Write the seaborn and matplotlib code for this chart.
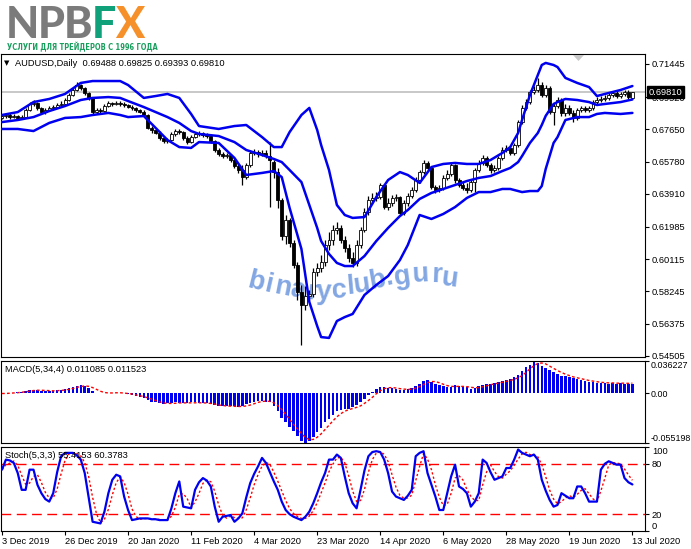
import numpy as np
import pandas as pd
import matplotlib
matplotlib.use("Agg")
import matplotlib.pyplot as plt
import seaborn as sns
from matplotlib import font_manager as fm
from matplotlib.patches import Polygon
from matplotlib.transforms import Affine2D

# ------------------------------------------------------------------ data
symbol_title = "AUDUSD,Daily  0.69488 0.69825 0.69393 0.69810"
macd_title = "MACD(5,34,4) 0.011085 0.011523"
stoch_title = "Stoch(5,3,3) 55.4153 60.3783"
last_price = 0.69810

open_ = [
    .6831, .6842, .6848, .6836, .6842, .6831, .6836, .6877, .6912, .6918,
    .6889, .6865, .6877, .6889, .6894, .6906, .6912, .6935, .6964, .6993,
    .7022, .7005, .6976, .6947, .6865, .6877, .6871, .6900, .6918, .6912,
    .6918, .6912, .6906, .6894, .6889, .6877, .6865, .6848, .6773, .6761,
    .6744, .6715, .6697, .6703, .6738, .6755, .6749, .6715, .6691, .6720,
    .6738, .6744, .6732, .6726, .6697, .6645, .6622, .6610, .6616, .6587,
    .6552, .6529, .6488, .6558, .6628, .6633, .6622, .6628, .6610, .6575,
    .6517, .6355, .6147, .6239, .6106, .5978, .5821, .5746, .5798, .5810,
    .5937, .5961, .5995, .6094, .6123, .6181, .6193, .6123, .6077, .6019,
    .5990, .6094, .6181, .6285, .6355, .6367, .6372, .6442, .6314, .6338,
    .6367, .6372, .6280, .6338, .6378, .6413, .6471, .6517, .6570, .6541,
    .6430, .6413, .6425, .6483, .6506, .6558, .6471, .6442, .6425, .6413,
    .6459, .6529, .6570, .6599, .6558, .6529, .6541, .6599, .6645, .6657,
    .6628, .6674, .6807, .6889, .6923, .6981, .6993, .7022, .6964, .7005,
    .6865, .6900, .6935, .6860, .6889, .6860, .6831, .6877, .6889, .6877,
    .6889, .6923, .6935, .6941, .6947, .6964, .6976, .6958, .6970, .6981,
    .69488]
high = [
    .6854, .6860, .6860, .6854, .6848, .6848, .6889, .6923, .6935, .6923,
    .6894, .6889, .6900, .6906, .6918, .6929, .6947, .6976, .7005, .7039,
    .7028, .7010, .6981, .6952, .6889, .6889, .6912, .6929, .6923, .6929,
    .6929, .6923, .6912, .6906, .6894, .6883, .6877, .6854, .6784, .6767,
    .6755, .6726, .6715, .6749, .6767, .6767, .6755, .6726, .6732, .6749,
    .6755, .6749, .6744, .6732, .6703, .6657, .6633, .6628, .6622, .6599,
    .6564, .6558, .6570, .6645, .6651, .6645, .6645, .6645, .6691, .6587,
    .6541, .6367, .6268, .6251, .6123, .5995, .5862, .5856, .5833, .5961,
    .5990, .6036, .6123, .6169, .6210, .6227, .6210, .6147, .6100, .6053,
    .6123, .6198, .6309, .6378, .6396, .6401, .6454, .6448, .6367, .6384,
    .6390, .6378, .6355, .6396, .6430, .6488, .6529, .6587, .6581, .6552,
    .6442, .6442, .6500, .6529, .6575, .6564, .6483, .6459, .6454, .6471,
    .6541, .6587, .6616, .6610, .6570, .6558, .6610, .6662, .6674, .6668,
    .6686, .6819, .6906, .6941, .6993, .7016, .7063, .7039, .7022, .7016,
    .6918, .6952, .6947, .6912, .6906, .6877, .6889, .6900, .6900, .6900,
    .6935, .6952, .6958, .6964, .6976, .6987, .6993, .6981, .6993, .6993,
    .69825]
low = [
    .6825, .6831, .6825, .6831, .6819, .6825, .6831, .6871, .6900, .6877,
    .6860, .6854, .6871, .6877, .6889, .6900, .6906, .6929, .6958, .6987,
    .6993, .6964, .6935, .6854, .6854, .6860, .6865, .6894, .6900, .6906,
    .6900, .6894, .6889, .6877, .6865, .6860, .6842, .6767, .6744, .6738,
    .6703, .6686, .6686, .6697, .6726, .6738, .6703, .6680, .6686, .6715,
    .6726, .6720, .6715, .6686, .6633, .6610, .6599, .6599, .6575, .6541,
    .6512, .6442, .6477, .6546, .6616, .6604, .6610, .6599, .6314, .6483,
    .6309, .6123, .6100, .6082, .5961, .5775, .5514, .5717, .5775, .5792,
    .5914, .5937, .5972, .6065, .6094, .6158, .6106, .6053, .5995, .5966,
    .5972, .6077, .6169, .6268, .6338, .6349, .6361, .6303, .6297, .6320,
    .6349, .6262, .6268, .6320, .6367, .6401, .6454, .6506, .6529, .6419,
    .6396, .6401, .6413, .6471, .6494, .6454, .6430, .6413, .6396, .6401,
    .6401, .6517, .6558, .6546, .6512, .6517, .6529, .6587, .6633, .6616,
    .6616, .6662, .6796, .6877, .6912, .6970, .6981, .6952, .6952, .6854,
    .6790, .6889, .6842, .6842, .6848, .6807, .6819, .6865, .6865, .6865,
    .6877, .6912, .6923, .6929, .6935, .6952, .6947, .6947, .6958, .6941,
    .69393]
close = [
    .6842, .6848, .6836, .6842, .6831, .6836, .6877, .6912, .6918, .6889,
    .6865, .6877, .6889, .6894, .6906, .6912, .6935, .6964, .6993, .7022,
    .7005, .6976, .6947, .6865, .6877, .6871, .6900, .6918, .6912, .6918,
    .6912, .6906, .6894, .6889, .6877, .6865, .6848, .6773, .6761, .6744,
    .6715, .6697, .6703, .6738, .6755, .6749, .6715, .6691, .6720, .6738,
    .6744, .6732, .6726, .6697, .6645, .6622, .6610, .6616, .6587, .6552,
    .6529, .6488, .6558, .6628, .6633, .6622, .6628, .6610, .6587, .6517,
    .6355, .6147, .6239, .6106, .5978, .5821, .5746, .5798, .5810, .5937,
    .5961, .5995, .6094, .6123, .6181, .6193, .6123, .6077, .6019, .5990,
    .6094, .6181, .6285, .6355, .6367, .6372, .6442, .6314, .6338, .6367,
    .6372, .6280, .6338, .6378, .6413, .6471, .6517, .6570, .6541, .6430,
    .6413, .6425, .6483, .6506, .6558, .6471, .6442, .6425, .6413, .6459,
    .6529, .6570, .6599, .6558, .6529, .6541, .6599, .6645, .6657, .6628,
    .6674, .6807, .6889, .6923, .6981, .6993, .7022, .6964, .7005, .6865,
    .6900, .6935, .6860, .6889, .6860, .6831, .6877, .6889, .6877, .6889,
    .6923, .6935, .6941, .6947, .6964, .6976, .6958, .6970, .6981, .6952,
    .69810]

# Bollinger bands, read at these bar positions
band_idx = [0, 4, 8, 12, 16, 20, 23, 27, 30, 32, 36, 39, 42, 45, 48, 50, 55, 59, 62,
            66, 69, 71, 73, 76, 78, 80, 81, 83, 85, 87, 89, 92, 95, 98, 101, 103,
            106, 109, 112, 115, 118, 121, 124, 127, 129, 131, 132, 134, 136, 137,
            138, 140, 141, 143, 146, 149, 151, 153, 157, 160]
bb_upper = [.6848, .6865, .6923, .6941, .6970, .7034, .7045, .7045, .7045, .7022,
            .6947, .6958, .6970, .6947, .6854, .6784, .6767, .6784, .6790,
            .6720, .6662, .6662, .6749, .6848, .6889, .6761, .6674, .6529, .6326,
            .6268, .6251, .6256, .6372, .6471, .6517, .6500,
            .6454, .6546, .6564, .6570, .6564, .6564, .6587, .6628, .6662, .6744,
            .6819, .6964, .7080, .7138,
            .7150, .7138, .7126, .7063, .7034, .7010, .6958, .6970, .6993, .7016]
bb_middle = [.6807, .6819, .6836, .6871, .6900, .6935, .6947, .6952, .6947, .6929,
             .6894, .6865, .6836, .6802, .6755, .6738, .6726, .6691, .6645,
             .6616, .6593, .6575, .6529, .6459, .6326, .6193, .6117, .6042, .5990,
             .5972, .5972, .6030, .6117, .6193, .6262, .6297,
             .6361, .6396, .6419, .6442, .6465, .6483, .6494, .6523, .6541, .6575,
             .6610, .6686, .6744, .6790,
             .6843, .6912, .6923, .6941, .6935, .6923, .6906, .6912, .6923, .6938]
bb_lower = [.6767, .6767, .6755, .6802, .6831, .6836, .6848, .6860, .6848, .6836,
            .6842, .6773, .6703, .6662, .6657, .6691, .6686, .6599, .6500,
            .6512, .6523, .6488, .6309, .6071, .5764, .5624, .5560, .5555, .5653,
            .5676, .5694, .5804, .5862, .5914, .6007, .6094,
            .6268, .6245, .6274, .6314, .6367, .6401, .6401, .6419, .6419, .6407,
            .6401, .6407, .6407, .6436,
            .6535, .6686, .6720, .6819, .6836, .6836, .6854, .6860, .6854, .6860]

macd_hist = [
    -0.0005, 0.0005, 0.0010, 0.0010, 0.0015, 0.0020,
    0.0030, 0.0040, 0.0040, 0.0035, 0.0030, 0.0030, 0.0030, 0.0030,
    0.0035, 0.0040, 0.0050, 0.0060, 0.0075, 0.0085, 0.0090, 0.0085,
    0.0060, 0.0030, 0.0010, 0.0000, 0.0005,
    0.0010, 0.0010, 0.0005, 0.0005, 0.0000, -0.0010,
    -0.0020, -0.0030, -0.0040, -0.0050, -0.0070, -0.0090, -0.0100, -0.0110, -0.0120,
    -0.0110, -0.0105, -0.0100, -0.0105, -0.0110, -0.0105, -0.0100, -0.0100, -0.0105, -0.0110, -0.0110,
    -0.0120, -0.0130, -0.0140, -0.0140, -0.0145, -0.0140, -0.0145, -0.0150, -0.0140, -0.0120, -0.0105, -0.0090,
    -0.0080, -0.0080, -0.0090, -0.0100, -0.0140, -0.0200,
    -0.0270, -0.0320, -0.0370, -0.0420, -0.0470, -0.0535, -0.0552, -0.0530,
    -0.0480, -0.0430, -0.0380, -0.0320, -0.0280, -0.0240, -0.0200, -0.0180, -0.0170, -0.0170, -0.0150, -0.0130, -0.0100, -0.0060,
    -0.0020, 0.0020, 0.0050, 0.0075, 0.0070, 0.0060, 0.0060, 0.0055, 0.0040, 0.0040, 0.0050, 0.0065, 0.0080, 0.0110,
    0.0140, 0.0150, 0.0130, 0.0110, 0.0090, 0.0080, 0.0070, 0.0075, 0.0090, 0.0080, 0.0070, 0.0070, 0.0055, 0.0060, 0.0080,
    0.0100, 0.0110, 0.0110, 0.0120, 0.0130, 0.0140, 0.0150, 0.0160, 0.0180,
    0.0210, 0.0250, 0.0290, 0.0320, 0.0355, 0.0345,
    0.0310, 0.0280, 0.0260, 0.0240, 0.0220, 0.0200, 0.0190, 0.0180, 0.0170,
    0.0160, 0.0150, 0.0140, 0.0130, 0.0130, 0.0120, 0.0120, 0.0120, 0.0110, 0.0120, 0.0110, 0.0120, 0.0110, 0.0110, 0.011085]
macd_signal = [
    0.0000, 0.0000, 0.0003, 0.0006, 0.0009, 0.0014, 0.0019, 0.0026, 0.0033, 0.0036,
    0.0036, 0.0034, 0.0031, 0.0030, 0.0031, 0.0034, 0.0039, 0.0046, 0.0056, 0.0068,
    0.0078, 0.0084, 0.0080, 0.0066, 0.0046, 0.0025, 0.0011, 0.0006, 0.0006, 0.0008,
    0.0008, 0.0005, 0.0000, -0.0006, -0.0015, -0.0025, -0.0035, -0.0048, -0.0063, -0.0078,
    -0.0093, -0.0105, -0.0110, -0.0111, -0.0109, -0.0105, -0.0105, -0.0105, -0.0105, -0.0104,
    -0.0103, -0.0104, -0.0106, -0.0111, -0.0118, -0.0128, -0.0134, -0.0139, -0.0141, -0.0143,
    -0.0145, -0.0144, -0.0139, -0.0129, -0.0114, -0.0099, -0.0089, -0.0085, -0.0088, -0.0103,
    -0.0133, -0.0178, -0.0233, -0.0290, -0.0345, -0.0395, -0.0445, -0.0490, -0.0515, -0.0512,
    -0.0488, -0.0450, -0.0402, -0.0355, -0.0305, -0.0260, -0.0225, -0.0198, -0.0180, -0.0168,
    -0.0155, -0.0138, -0.0110, -0.0078, -0.0043, -0.0003, 0.0031, 0.0054, 0.0064, 0.0066,
    0.0061, 0.0054, 0.0049, 0.0046, 0.0049, 0.0059, 0.0076, 0.0099, 0.0120, 0.0133,
    0.0133, 0.0120, 0.0103, 0.0088, 0.0079, 0.0079, 0.0079, 0.0079, 0.0076, 0.0069,
    0.0064, 0.0066, 0.0075, 0.0086, 0.0098, 0.0108, 0.0115, 0.0125, 0.0135, 0.0145,
    0.0158, 0.0175, 0.0200, 0.0235, 0.0275, 0.0310, 0.0335, 0.0340, 0.0330, 0.0305,
    0.0280, 0.0255, 0.0235, 0.0215, 0.0200, 0.0185, 0.0175, 0.0165, 0.0155, 0.0145,
    0.0138, 0.0130, 0.0125, 0.0122, 0.0118, 0.0118, 0.0115, 0.0115, 0.0115, 0.0113,
    0.011523]

stoch_main = [
    73, 85, 84, 81, 69, 49, 49, 73, 73, 55,
    45, 38, 35, 45, 70, 89, 93, 93, 93, 90,
    85, 69, 40, 11, 10, 9, 23, 45, 61, 67,
    65, 41, 25, 13, 14, 15, 15, 15, 14, 14,
    13, 13, 13, 27, 45, 59, 29, 28, 27, 49,
    58, 63, 60, 53, 29, 11, 17, 18, 19, 11,
    15, 21, 40, 57, 68, 77, 87, 81, 70, 59,
    49, 35, 25, 20, 17, 15, 13, 17, 23, 33,
    45, 58, 69, 85, 85, 91, 87, 65, 45, 33,
    27, 49, 72, 89, 94, 95, 94, 85, 69, 47,
    41, 39, 37, 42, 49, 89, 93, 95, 69, 55,
    41, 25, 25, 45, 65, 79, 53, 50, 45, 29,
    35, 45, 85, 81, 70, 61, 63, 65, 75, 75,
    85, 97, 93, 91, 89, 91, 85, 61, 48, 37,
    29, 31, 45, 42, 39, 39, 53, 53, 45, 35,
    35, 35, 73, 80, 83, 81, 79, 79, 63, 58,
    55.4153]
stoch_signal = [
    73, 79, 80.7, 83.3, 78, 66.3, 55.7, 57, 65, 67,
    57.7, 46, 39.3, 39.3, 50, 68, 84, 91.7, 93, 92,
    89.3, 81.3, 64.7, 40, 20.3, 10, 14, 25.7, 43, 57.7,
    64.3, 57.7, 43.7, 26.3, 17.3, 14, 14.7, 15, 14.7, 14.3,
    13.7, 13.3, 13, 17.7, 28.3, 43.7, 44.3, 38.7, 28, 34.7,
    44.7, 56.7, 60.3, 58.7, 47.3, 31, 19, 15.3, 18, 16,
    15, 15.7, 25.3, 39.3, 55, 67.3, 77.3, 81.7, 79.3, 70,
    59.3, 47.7, 36.3, 26.7, 20.7, 17.3, 15, 15, 17.7, 24.3,
    33.7, 45.3, 57.3, 70.7, 79.7, 87, 87.7, 81, 65.7, 47.7,
    35, 36.3, 49.3, 70, 85, 92.7, 94.3, 91.3, 82.7, 67,
    52.3, 42.3, 39, 39.3, 42.7, 60, 77, 92.3, 85.7, 73,
    55, 40.3, 30.3, 31.7, 45, 63, 65.7, 60.7, 49.3, 41.3,
    36.3, 36.3, 55, 70.3, 78.7, 70.7, 64.7, 63, 67.7, 71.7,
    78.3, 85.7, 91.7, 93.7, 91, 90.3, 88.3, 79, 64.7, 48.7,
    38, 32.3, 35, 39.3, 42, 40, 43.7, 48.3, 50.3, 44.3,
    38.3, 35, 47.7, 62.7, 78.7, 81.3, 81, 79.7, 73.7, 66.7,
    60.3783]

price_ticks = [0.71445, 0.69520, 0.67650, 0.65780, 0.63910, 0.61985,
               0.60115, 0.58245, 0.56375, 0.54505]
macd_ticks = [0.036227, 0.0, -0.055198]
macd_tick_labels = ["0.036227", "0.00", "-0.055198"]
stoch_ticks = [100, 80, 20, 0]
stoch_levels = [80, 20]
date_tick_idx = [0, 16, 32, 48, 64, 80, 96, 112, 128, 144, 160]
date_labels = ["3 Dec 2019", "26 Dec 2019", "20 Jan 2020", "11 Feb 2020",
               "4 Mar 2020", "23 Mar 2020", "14 Apr 2020", "6 May 2020",
               "28 May 2020", "19 Jun 2020", "13 Jul 2020"]

logo_letters = ["N", "P", "B", "F", "X"]
logo_colors = ["#7b7b7b", "#7b7b7b", "#7b7b7b", "#10a07a", "#f5902a"]
logo_subtitle = "УСЛУГИ ДЛЯ ТРЕЙДЕРОВ С 1996 ГОДА"
watermark = "binaryclub.guru"

# ------------------------------------------------------------------ style
sns.set_theme(style="white")
ttf = fm.fontManager.ttflist
names = {f.name for f in ttf}
UI = "Liberation Sans" if "Liberation Sans" in names else "DejaVu Sans"
NARROW = "Liberation Sans Narrow" if "Liberation Sans Narrow" in names else None
plt.rcParams["font.family"] = [UI, "DejaVu Sans"]
plt.rcParams.update({"text.color": "black", "xtick.color": "black",
                     "ytick.color": "black", "axes.edgecolor": "black"})


def _w(v):
    if isinstance(v, str):
        return fm.weight_dict.get(v, 400)
    return int(v)


# heaviest available face for the logo
HEAVY_FAM, HEAVY_W = "DejaVu Sans", "bold"
for fam in ["Noto Sans", "Lato", "Roboto", "Inter", "Open Sans"]:
    ws = [_w(f.weight) for f in ttf if f.name == fam and f.style == "normal"]
    if ws and max(ws) >= 800:
        HEAVY_FAM, HEAVY_W = fam, max(ws)
        break
# condensed face for the small logo line
COND = None
if NARROW:
    COND = ([NARROW, UI], "normal")
elif any(f.name == "DejaVu Sans" and "condensed" in str(f.stretch) for f in ttf):
    COND = (["DejaVu Sans"], "condensed")

FS = 6.7
BLUE = "#0000f0"
RED = "#ff0000"

W, H = 691, 549
fig = plt.figure(figsize=(W / 100, H / 100), dpi=100, facecolor="white")
PIX = Affine2D().scale(1.0 / W, -1.0 / H).translate(0, 1) + fig.transFigure
XLIM = (-0.25, 163.2)


def add_panel(x0, y0, x1, y1):
    ax = fig.add_axes([x0 / W, 1 - y1 / H, (x1 - x0) / W, (y1 - y0) / H])
    ax.set_facecolor("white")
    for s in ax.spines.values():
        s.set_color("black")
        s.set_linewidth(0.8)
    ax.grid(False)
    return ax


def finish(ax, pad=2, size=FS):
    ax.set_xlim(*XLIM)
    ax.set_xlabel("")
    ax.set_ylabel("")
    ax.yaxis.tick_right()
    ax.tick_params(axis="y", direction="out", length=3, width=0.8, pad=pad,
                   labelsize=size, left=False, right=True)


x = np.arange(len(close))
o = np.array(open_); h = np.array(high); l = np.array(low); c = np.array(close)

# ------------------------------------------------------------------ main panel
ax = add_panel(1, 54, 645, 357)
ax.axhline(last_price, color="#c4c4c4", lw=1.3, zorder=1)
ax.vlines(x, l, h, colors="black", lw=0.9, zorder=3)
body_lo = np.minimum(o, c)
body_h = np.maximum(np.abs(c - o), 0.00012)
body_col = ["white" if cc >= oo else "black" for oo, cc in zip(o, c)]
ax.bar(x, body_h, bottom=body_lo, width=0.75, color=body_col,
       edgecolor="black", linewidth=0.6, zorder=4)
for band in (bb_upper, bb_middle, bb_lower):
    sns.lineplot(x=band_idx, y=band, ax=ax, color=BLUE, linewidth=1.8,
                 errorbar=None, legend=False, zorder=5)
ax.set_ylim(0.7515 - 0.00058 * 357, 0.7515 - 0.00058 * 54)
finish(ax)
ax.set_xticks([])
ax.set_yticks(price_ticks)
ax.set_yticklabels([f"{v:.5f}" for v in price_ticks])
ax.text(1.0 + 4 / 644, last_price, f"{last_price:.5f}", transform=ax.get_yaxis_transform(),
        ha="left", va="center", color="white", fontsize=FS, zorder=10, clip_on=False,
        bbox=dict(boxstyle="square,pad=0.18", fc="black", ec="black"))

# watermark (curved, letter by letter)
wm_x = [254, 267, 281, 297, 311, 324, 339, 351, 363, 378, 390, 403, 421, 436, 449]
wm_y = [289, 292, 295, 297, 299, 299, 298, 294, 292, 288, 284, 284, 282, 282, 286]
wm_r = [-14, -13, -11, -8, -5, -2, 2, 5, 8, 10, 10, 8, 3, -2, -7]
for ch, xx, yy, rr in zip(watermark, wm_x, wm_y, wm_r):
    ax.text(xx, yy, ch, transform=PIX, ha="center", va="baseline", rotation=rr,
            rotation_mode="anchor", fontsize=19.5, fontweight="bold",
            color="#6d97de", alpha=0.85, zorder=2, clip_on=False)

# chart-shift marker
fig.patches.append(Polygon([(573, 55), (584, 55), (578.5, 61)], closed=True,
                           transform=PIX, fc="#c8c8c8", ec="none", figure=fig))

# ------------------------------------------------------------------ MACD
axm = add_panel(1, 361, 645, 443)
axm.bar(x, macd_hist, width=0.64, color=BLUE, linewidth=0, zorder=2)
sns.lineplot(x=x, y=macd_signal, ax=axm, color=RED, linewidth=1.0,
             linestyle=(0, (2, 1.6)), errorbar=None, legend=False, zorder=3)
axm.set_ylim(-0.055198, 0.036227)
finish(axm, pad=1.2, size=6.4)
axm.set_xticks([])
axm.set_yticks(macd_ticks)
axm.set_yticklabels(macd_tick_labels)

# ------------------------------------------------------------------ Stochastic
axs = add_panel(1, 447, 645, 531)
for lv in stoch_levels:
    axs.axhline(lv, color=RED, lw=1.0, dashes=(7, 4), zorder=1)
sns.lineplot(x=x, y=stoch_signal, ax=axs, color=RED, linewidth=1.0,
             linestyle=(0, (1.6, 1.6)), errorbar=None, legend=False, zorder=2)
sns.lineplot(x=x, y=stoch_main, ax=axs, color=BLUE, linewidth=1.6,
             errorbar=None, legend=False, zorder=3)
axs.set_ylim(0, 100)
finish(axs)
axs.set_yticks(stoch_ticks)
axs.set_yticklabels([str(v) for v in stoch_ticks])
axs.set_xticks(date_tick_idx)
axs.set_xticklabels(date_labels, ha="left")
axs.tick_params(axis="x", direction="out", length=3, width=0.8, pad=1.5,
                labelsize=FS, bottom=True)

# edge labels sit inside the panel height
for axis_ in (axm, axs):
    ticks = axis_.yaxis.get_major_ticks()
    ticks[0].label2.set_verticalalignment("top")
    ticks[-1].label2.set_verticalalignment("bottom")

# ------------------------------------------------------------------ headers
fig.text(4, 63.5, "▼", transform=PIX, fontsize=5, va="center", ha="left",
         family=["DejaVu Sans"])
fig.text(15, 63.5, symbol_title, transform=PIX, fontsize=FS, va="center", ha="left")
fig.text(5, 369, macd_title, transform=PIX, fontsize=FS, va="center", ha="left")
fig.text(5, 455.5, stoch_title, transform=PIX, fontsize=FS, va="center", ha="left")

# ------------------------------------------------------------------ logo
renderer = fig.canvas.get_renderer()
logo_size = 31.0
letters = [fig.text(0, 38.5, ch, transform=PIX, fontsize=logo_size, fontweight=HEAVY_W,
                    color=col, va="baseline", ha="left", family=[HEAVY_FAM, "DejaVu Sans"])
           for ch, col in zip(logo_letters, logo_colors)]
widths = [t.get_window_extent(renderer).width for t in letters]
gap = -1.0
total = sum(widths) + gap * (len(widths) - 1)
scale = min(1.0, 149.0 / total) if total > 0 else 1.0
cx = 6.0
for t, wdt in zip(letters, widths):
    t.set_fontsize(logo_size * scale)
    t.set_position((cx, 38.5))
    cx += wdt * scale + gap

if COND:
    sub_fam, sub_stretch = COND
else:
    sub_fam, sub_stretch = [UI, "DejaVu Sans"], "normal"
sub = fig.text(7, 50, logo_subtitle, transform=PIX, fontsize=7, fontweight="bold",
               color="#1a9e5e", va="baseline", ha="left", family=sub_fam,
               fontstretch=sub_stretch)
bb = sub.get_window_extent(renderer)
if bb.width > 0:
    sub.set_fontsize(7 * 151.0 / bb.width)

fig.savefig("out.png", dpi=100, facecolor="white")
